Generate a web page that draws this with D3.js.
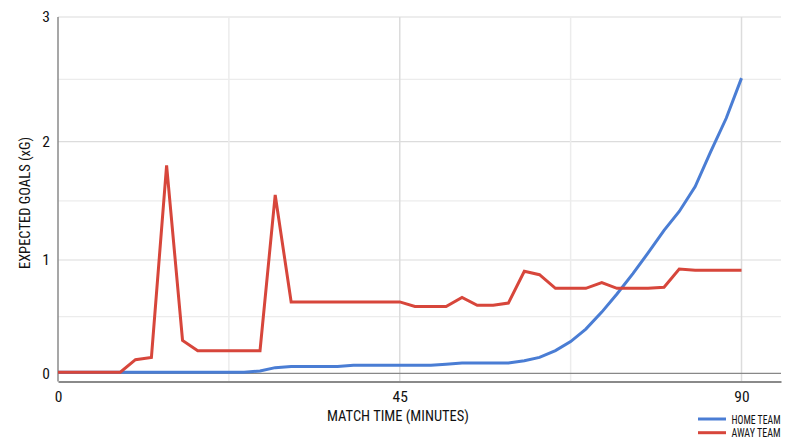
<!DOCTYPE html>
<html>
<head>
<meta charset="utf-8">
<script src="https://cdn.jsdelivr.net/npm/d3@7"></script>
<style>
  body { margin: 0; background: #fff; }
  svg text { font-family: "Roboto Condensed", "Liberation Sans Narrow", "DejaVu Sans Condensed", Roboto, sans-serif; fill: #111; }
</style>
</head>
<body>
<div id="chart"></div>
<script>
// minutes for each reading (45 evenly spaced readings over the match)
var minutes = [0, 2.0, 4.1, 6.1, 8.2, 10.2, 12.3, 14.3, 16.4, 18.4, 20.5, 22.5, 24.5, 26.6, 28.6,
    30.7, 32.7, 34.8, 36.8, 38.9, 40.9, 43.0, 45.0, 47.0, 49.1, 51.1, 53.2, 55.2, 57.3, 59.3,
    61.4, 63.4, 65.5, 67.5, 69.5, 71.6, 73.6, 75.7, 77.7, 79.8, 81.8, 83.9, 85.9, 88.0, 90];

var homeXG = [0.01, 0.01, 0.01, 0.01, 0.01, 0.01, 0.01, 0.01, 0.01, 0.01, 0.01, 0.01, 0.01, 0.02, 0.05,
    0.06, 0.06, 0.06, 0.06, 0.07, 0.07, 0.07, 0.07, 0.07, 0.07, 0.08, 0.09, 0.09, 0.09, 0.09,
    0.11, 0.14, 0.20, 0.28, 0.39, 0.54, 0.70, 0.88, 1.06, 1.25, 1.41, 1.62, 1.91, 2.19, 2.51];

var awayXG = [0.01, 0.01, 0.01, 0.01, 0.01, 0.12, 0.14, 1.80, 0.29, 0.20, 0.20, 0.20, 0.20, 0.20, 1.55,
    0.63, 0.63, 0.63, 0.63, 0.63, 0.63, 0.63, 0.63, 0.59, 0.59, 0.59, 0.67, 0.60, 0.60, 0.62,
    0.90, 0.87, 0.75, 0.75, 0.75, 0.80, 0.75, 0.75, 0.75, 0.76, 0.92, 0.91, 0.91, 0.91, 0.91];

var seriesNames = ["HOME TEAM", "AWAY TEAM"];
var seriesColors = ["#4a7dd4", "#d7463b"];
var xTicks = [0, 45, 90];
var yTicks = [0, 1, 2, 3];

var svgWidth = 800;
var svgHeight = 447;

var plotLeft = 58, plotRight = 781, plotTop = 17, plotBottom = 381.5;

var svg = d3.select("#chart")
    .append("svg")
    .attr("width", svgWidth)
    .attr("height", svgHeight);

var xScale = d3.scaleLinear().domain([0, 95.2]).range([plotLeft, plotRight]);
// the reference grid is a little uneven, so map each whole goal separately
var yScale = d3.scaleLinear().domain([0, 1, 2, 3]).range([373.3, 260, 141.7, plotTop]);

// grid
var grid = svg.append("g");
grid.selectAll(".hgrid")
    .data(d3.range(0.5, 3.01, 0.5))
    .enter()
    .append("line")
    .attr("x1", plotLeft).attr("x2", plotRight)
    .attr("y1", d => yScale(d)).attr("y2", d => yScale(d))
    .attr("stroke", d => d % 1 === 0 ? "#dcdcdc" : "#ececec")
    .attr("stroke-width", 1.2);

grid.selectAll(".vgrid")
    .data([22.5, 45, 67.5, 90])
    .enter()
    .append("line")
    .attr("x1", d => xScale(d)).attr("x2", d => xScale(d))
    .attr("y1", plotTop).attr("y2", plotBottom)
    .attr("stroke", d => d % 45 === 0 ? "#dcdcdc" : "#ececec")
    .attr("stroke-width", 1.5);

// zero line
svg.append("line")
    .attr("x1", plotLeft).attr("x2", plotRight)
    .attr("y1", yScale(0)).attr("y2", yScale(0))
    .attr("stroke", "#888")
    .attr("stroke-width", 1.2);

// axes
var bottomAxis = d3.axisBottom(xScale).tickValues(xTicks).tickSize(0).tickPadding(9).tickFormat(d3.format("d"));
var leftAxis = d3.axisLeft(yScale).tickValues(yTicks).tickSize(0).tickPadding(8).tickFormat(d3.format("d"));

var xAxisG = svg.append("g")
    .attr("transform", `translate(0,${plotBottom})`)
    .call(bottomAxis);
xAxisG.select(".domain").attr("stroke", "#8a8a8a").attr("stroke-width", 2.2);
xAxisG.selectAll("text").attr("font-size", 15.5).attr("fill", "#111");

var yAxisG = svg.append("g")
    .attr("transform", `translate(${plotLeft},0)`)
    .call(leftAxis);
yAxisG.select(".domain").attr("d", `M0,${plotTop}V${plotBottom}`).attr("stroke", "#8a8a8a").attr("stroke-width", 1.5);
yAxisG.selectAll("text").attr("font-size", 15.5).attr("fill", "#111");

// lines
var line = d3.line()
    .x((d, i) => xScale(minutes[i]))
    .y(d => yScale(d));

[homeXG, awayXG].forEach(function(values, k) {
    svg.append("path")
        .datum(values)
        .attr("d", line)
        .attr("fill", "none")
        .attr("stroke", seriesColors[k])
        .attr("stroke-width", 3)
        .attr("stroke-linejoin", "miter");
});

// axis titles
svg.append("text")
    .attr("x", 398)
    .attr("y", 421)
    .attr("font-size", 14.5)
    .style("text-anchor", "middle")
    .text("MATCH TIME (MINUTES)");

svg.append("text")
    .attr("transform", "rotate(-90)")
    .attr("x", -203)
    .attr("y", 29.5)
    .attr("font-size", 14.5)
    .style("text-anchor", "middle")
    .text("EXPECTED GOALS (xG)");

// legend
var legend = svg.selectAll(".legend")
    .data(seriesNames)
    .enter()
    .append("g")
    .attr("transform", (d, i) => `translate(698,${419 + i * 13.7})`);

legend.append("line")
    .attr("x1", 0).attr("x2", 28)
    .attr("stroke", (d, i) => seriesColors[i])
    .attr("stroke-width", 3);

legend.append("text")
    .attr("x", 33.5)
    .attr("dy", "0.36em")
    .attr("font-size", 12.5)
    .attr("textLength", 49)
    .attr("lengthAdjust", "spacingAndGlyphs")
    .text(d => d);
</script>
</body>
</html>
